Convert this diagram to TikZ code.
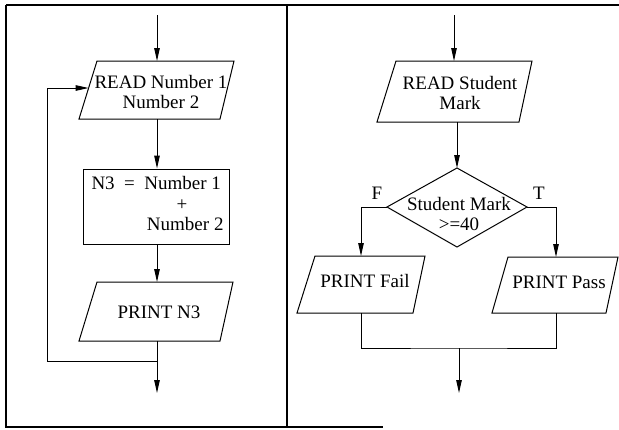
\documentclass[tikz,border=0pt]{standalone}
\usepackage{fontspec}
\setmainfont{Liberation Serif}
\usetikzlibrary{arrows.meta}
\begin{document}
\begin{tikzpicture}[x=1pt,y=-1pt,line width=1pt,line join=miter,
  txt/.style={font=\fontsize{19}{20}\selectfont,inner sep=0pt,align=center},
  flow/.style={-{Triangle[length=13pt,width=5.5pt]}},
  frame/.style={line width=1.6pt},
  outline/.style={line width=1pt}]
\useasboundingbox (0,0) rectangle (619,429);
% frame
\draw[frame] (6,5) -- (619,5);
\draw[frame] (6,5) -- (6,427) -- (383,427);
\draw[frame] (287,5) -- (287,427);
% ---------- left flowchart ----------
\coordinate (a0) at (157,15);
\coordinate (p1a) at (97,61); \coordinate (p1b) at (234,61);
\coordinate (p1c) at (220,119); \coordinate (p1d) at (79,119);
\coordinate (p1t) at (157,61); \coordinate (p1s) at (157,119);
\coordinate (p1l) at (88.6,88);
\draw[outline] (p1a) -- (p1b) -- (p1c) -- (p1d) -- cycle;
\node[txt] (t1) at (161,92) {READ Number 1\\Number 2};
\node[draw,outline,minimum width=146pt,minimum height=75pt,inner sep=0pt] (r1) at (156.5,206.5) {};
\node[txt,anchor=base west] (t2a) at (91,189) {N3\ \ =\ \ Number 1};
\node[txt] (t2b) at (182,205) {+};
\node[txt,anchor=base east] (t2c) at (224,230) {Number 2};
\coordinate (p2a) at (97,282); \coordinate (p2b) at (233,282);
\coordinate (p2c) at (220,341); \coordinate (p2d) at (79,341);
\coordinate (p2t) at (157,282); \coordinate (p2s) at (157,341);
\draw[outline] (p2a) -- (p2b) -- (p2c) -- (p2d) -- cycle;
\node[txt] (t3) at (159,312) {PRINT N3};
\coordinate (j1) at (157,361);
\coordinate (e1) at (157,393);
\coordinate (lp) at (47,361);
\draw[flow] (a0) -- (p1t);
\draw[flow] (p1s) -- (r1.north -| p1s);
\draw[flow] (r1.south -| p2t) -- (p2t);
\draw[flow] (p2s) -- (e1);
\draw[flow] (j1) -- (lp) |- (p1l);
% ---------- right flowchart ----------
\coordinate (b0) at (454,15);
\coordinate (q1a) at (396,61); \coordinate (q1b) at (532,61);
\coordinate (q1c) at (519,122); \coordinate (q1d) at (377,122);
\coordinate (q1t) at (454,61); \coordinate (q1s) at (457,122);
\draw[outline] (q1a) -- (q1b) -- (q1c) -- (q1d) -- cycle;
\node[txt] (t4) at (460,93) {READ Student\\Mark};
\coordinate (dT) at (457,168); \coordinate (dR) at (527,207);
\coordinate (dB) at (457,247); \coordinate (dL) at (387,207);
\draw[outline] (dT) -- (dR) -- (dB) -- (dL) -- cycle;
\node[txt] (t5) at (459,214) {Student Mark\\>=40};
\node[txt] (lf) at (377,193) {F};
\node[txt] (lt) at (539,193) {T};
\coordinate (qfa) at (315,256); \coordinate (qfb) at (425,256);
\coordinate (qfc) at (413,313); \coordinate (qfd) at (297,313);
\coordinate (qft) at (361,256); \coordinate (qfs) at (361,313);
\draw[outline] (qfa) -- (qfb) -- (qfc) -- (qfd) -- cycle;
\node[txt] (t6) at (365,281) {PRINT Fail};
\coordinate (qpa) at (508,257); \coordinate (qpb) at (618,257);
\coordinate (qpc) at (606,313); \coordinate (qpd) at (492,313);
\coordinate (qpt) at (556,257); \coordinate (qps) at (556,313);
\draw[outline] (qpa) -- (qpb) -- (qpc) -- (qpd) -- cycle;
\node[txt] (t7) at (559,282) {PRINT Pass};
\coordinate (m1) at (459,348);
\coordinate (e2) at (459,393);
\draw[flow] (b0) -- (q1t);
\draw[flow] (q1s) -- (dT);
\draw[flow] (dL) -| (qft);
\draw[flow] (dR) -| (qpt);
\draw (qfs) |- (m1) -| (qps);
\draw[flow] (m1) -- (e2);
\end{tikzpicture}
\end{document}
